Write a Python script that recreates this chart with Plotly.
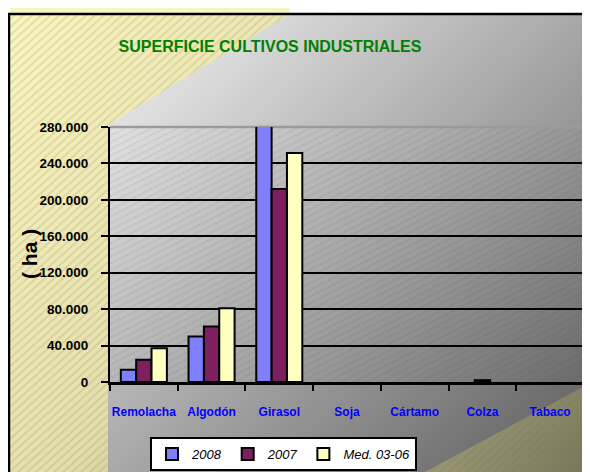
import base64
import plotly.graph_objects as go

cultivos = ["Remolacha", "Algodón", "Girasol", "Soja", "Cártamo", "Colza", "Tabaco"]
series = ["2008", "2007", "Med. 03-06"]
sup_2008 = [13500, 50000, 284500, 0, 0, 0, 0]
sup_2007 = [24500, 61000, 212000, 0, 0, 2000, 0]
sup_med = [37000, 81000, 251500, 0, 0, 0, 0]
colores = ["#8080ff", "#7f1f5f", "#ffffc0"]
y_ticks = [0, 40000, 80000, 120000, 160000, 200000, 240000, 280000]

# la página deja 8 px de margen en el body: la figura se corre 8 px
OFF = 8
W, H = 590 - OFF, 472 - OFF
L, R, T, B = 110 - OFF, 6, 127 - OFF, 90
pw, ph = W - L - R, H - T - B
fuente = "Liberation Sans, Arial, sans-serif"

# fondo (degradados + rayado) como imagen svg, en coordenadas de pantalla
svg = f"""<svg xmlns='http://www.w3.org/2000/svg' width='{W}' height='{H}' viewBox='0 0 {W} {H}'>
<defs>
<linearGradient id='ye' gradientUnits='userSpaceOnUse' x1='0' y1='0' x2='590' y2='472'>
<stop offset='0' stop-color='#fbf7c0'/><stop offset='0.45' stop-color='#e4deab'/><stop offset='1' stop-color='#77765a'/>
</linearGradient>
<linearGradient id='gr' gradientUnits='userSpaceOnUse' x1='150' y1='20' x2='590' y2='472'>
<stop offset='0' stop-color='#ececec'/><stop offset='1' stop-color='#5c5c5c'/>
</linearGradient>
<pattern id='h1' patternUnits='userSpaceOnUse' width='6' height='6' patternTransform='rotate(-42)'>
<line x1='0' y1='3' x2='6' y2='3' stroke='#7a7550' stroke-width='0.6' stroke-opacity='0.55'/>
</pattern>
<pattern id='h2' patternUnits='userSpaceOnUse' width='6' height='6' patternTransform='rotate(-27)'>
<line x1='0' y1='3' x2='6' y2='3' stroke='#444' stroke-width='0.6' stroke-opacity='0.35' stroke-dasharray='2,1'/>
</pattern>
</defs>
<g transform='translate(-{OFF},-{OFF})'>
<rect x='0' y='0' width='600' height='480' fill='white'/>
<rect x='10' y='8' width='280' height='6' fill='#f8f4c4'/>
<rect x='9' y='14' width='600' height='480' fill='url(#ye)'/>
<rect x='9' y='14' width='600' height='480' fill='url(#h1)'/>
<polygon points='108,480 108,125 290,14 585,14 585,386 410,480' fill='url(#gr)'/>
<rect x='110' y='127' width='{pw}' height='{ph}' fill='url(#h2)'/>
<rect x='9' y='14' width='620' height='490' fill='none' stroke='black' stroke-width='2.5'/>
</g>
</svg>"""
src = "data:image/svg+xml;base64," + base64.b64encode(svg.encode()).decode()

fig = go.Figure()
for nombre, valores, color in zip(series, [sup_2008, sup_2007, sup_med], colores):
    fig.add_trace(go.Bar(
        x=cultivos, y=valores, name=nombre,
        # sin borde para las barras a cero (no se ven en el original)
        marker=dict(color=color, line=dict(color="black", width=[2 if v else 0 for v in valores])),
        cliponaxis=False, hoverinfo="skip",
    ))

fig.update_layout(
    width=W, height=H,
    margin=dict(l=L, r=R, t=T, b=B, autoexpand=False),
    paper_bgcolor="white",
    plot_bgcolor="rgba(0,0,0,0)",
    separators=",.",
    barmode="group",
    bargap=0.32,
    bargroupgap=0,
    title=dict(
        text="SUPERFICIE CULTIVOS INDUSTRIALES",
        x=(270 - OFF) / W, xref="container", xanchor="center",
        y=1 - (46 - OFF) / H, yanchor="middle",
        font=dict(family=fuente, size=16, color="#008000", weight="bold"),
    ),
    legend=dict(
        orientation="h",
        x=(150 - 110) / pw, xanchor="left",
        y=(382 - 437) / ph, yanchor="top",
        bgcolor="white", bordercolor="black", borderwidth=2,
        font=dict(family=fuente, size=13, color="black", style="italic"),
        traceorder="normal",
    ),
    showlegend=True,
    images=[dict(
        source=src, xref="paper", yref="paper",
        x=-L / pw, y=1 + T / ph, xanchor="left", yanchor="top",
        sizex=W / pw, sizey=H / ph, sizing="stretch", layer="below",
    )],
    annotations=[dict(
        text="( ha )", textangle=-90, showarrow=False,
        xref="paper", yref="paper", xanchor="center", yanchor="middle",
        x=(29 - 110) / pw, y=(382 - 254) / ph,
        font=dict(family=fuente, size=21, color="black", weight="bold"),
    )],
    shapes=[
        dict(type="line", xref="paper", yref="paper", x0=0, x1=1, y0=1, y1=1,
             line=dict(color="#9a9a9a", width=2.5), layer="between"),
        dict(type="line", xref="paper", yref="paper", x0=1, x1=1, y0=0, y1=1,
             line=dict(color="#e8e8e8", width=2), layer="between"),
    ],
)

fig.update_yaxes(
    range=[0, 280000], tickvals=y_ticks, tickformat=",",
    showgrid=True, gridcolor="black", gridwidth=2,
    showline=True, linecolor="black", linewidth=2,
    ticks="outside", ticklen=7, tickwidth=2, tickcolor="black",
    ticklabelstandoff=10,
    tickfont=dict(family=fuente, size=13.5, color="black", weight="bold"),
    zeroline=False,
)
fig.update_xaxes(
    showline=True, linecolor="black", linewidth=2.5,
    ticks="outside", tickson="boundaries", ticklen=6, tickwidth=2, tickcolor="black",
    ticklabelstandoff=17, tickangle=0,
    tickfont=dict(family=fuente, size=12, color="#0000ff", weight="bold"),
)

fig.write_html("out.html")
